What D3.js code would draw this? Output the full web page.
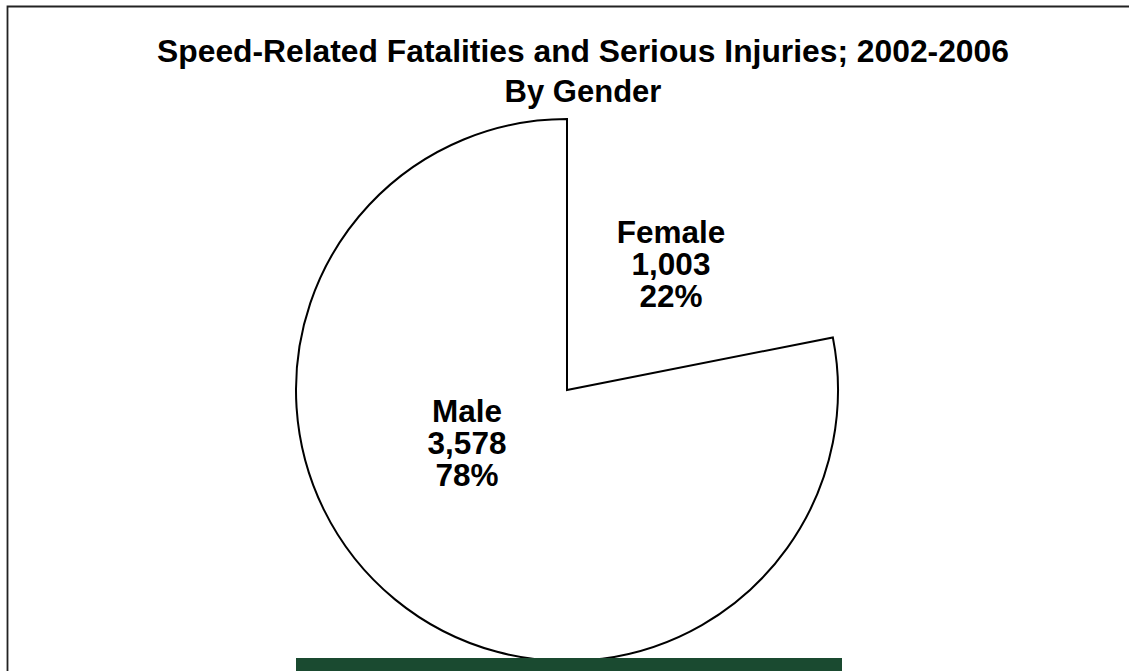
<!DOCTYPE html>
<html>
<head>
<meta charset="utf-8">
<script src="https://cdn.jsdelivr.net/npm/d3@7/dist/d3.min.js"></script>
<style>
  html, body { margin: 0; padding: 0; background: #fff; }
  svg { display: block; }
  text { font-family: Arial, "Liberation Sans", sans-serif; font-weight: bold; fill: #000; }
</style>
</head>
<body>
<svg id="chart" width="1129" height="671"></svg>
<script>
// Speed-related fatalities and serious injuries by gender, 2002-2006
const titleLines = ["Speed-Related Fatalities and Serious Injuries; 2002-2006", "By Gender"];
const categories = ["Female", "Male"];
const counts = [1003, 3578];
const percentLabels = ["22%", "78%"];
// only the Male wedge is outlined; the Female wedge is left open
const drawWedge = [false, true];

const W = 1129, H = 671;
const svg = d3.select("#chart");

// frame: top and left rules
svg.append("path")
  .attr("d", `M7.5,${H} L7.5,6.5 L${W},6.5`)
  .attr("fill", "none")
  .attr("stroke", "#222")
  .attr("stroke-width", 1.8);

// title
svg.append("text")
  .attr("x", 583).attr("y", 62)
  .attr("text-anchor", "middle")
  .style("font-size", "31.8px")
  .text(titleLines[0]);
svg.append("text")
  .attr("x", 583).attr("y", 102)
  .attr("text-anchor", "middle")
  .style("font-size", "31px")
  .text(titleLines[1]);

// pie
const cx = 567, cy = 390, radius = 271;
const rows = categories.map((c, i) => ({ category: c, count: counts[i], pct: percentLabels[i], drawn: drawWedge[i] }));
const pie = d3.pie().sort(null).value(d => d.count);
const arc = d3.arc().innerRadius(0).outerRadius(radius);
const arcs = pie(rows);

const g = svg.append("g").attr("transform", `translate(${cx},${cy})`);
g.selectAll("path.wedge")
  .data(arcs)
  .join("path")
  .attr("class", "wedge")
  .attr("d", arc)
  .attr("fill", d => d.data.drawn ? "#fff" : "none")
  .attr("stroke", d => d.data.drawn ? "#000" : "none")
  .attr("stroke-width", 2)
  .attr("stroke-linejoin", "miter");

// wedge labels
const labelPos = { Female: [671 - cx, 243 - cy], Male: [467 - cx, 422 - cy] };
const fmt = d3.format(",");
arcs.forEach(a => {
  const [lx, ly] = labelPos[a.data.category];
  const t = g.append("text")
    .attr("text-anchor", "middle")
    .style("font-size", "31.5px");
  [a.data.category, fmt(a.data.count), a.data.pct].forEach((s, i) => {
    t.append("tspan").attr("x", lx).attr("y", ly + i * 32).text(s);
  });
});

// bottom band
svg.append("rect")
  .attr("x", 296).attr("y", 658)
  .attr("width", 842 - 296).attr("height", H - 658)
  .attr("fill", "#1a4a30");
</script>
</body>
</html>
